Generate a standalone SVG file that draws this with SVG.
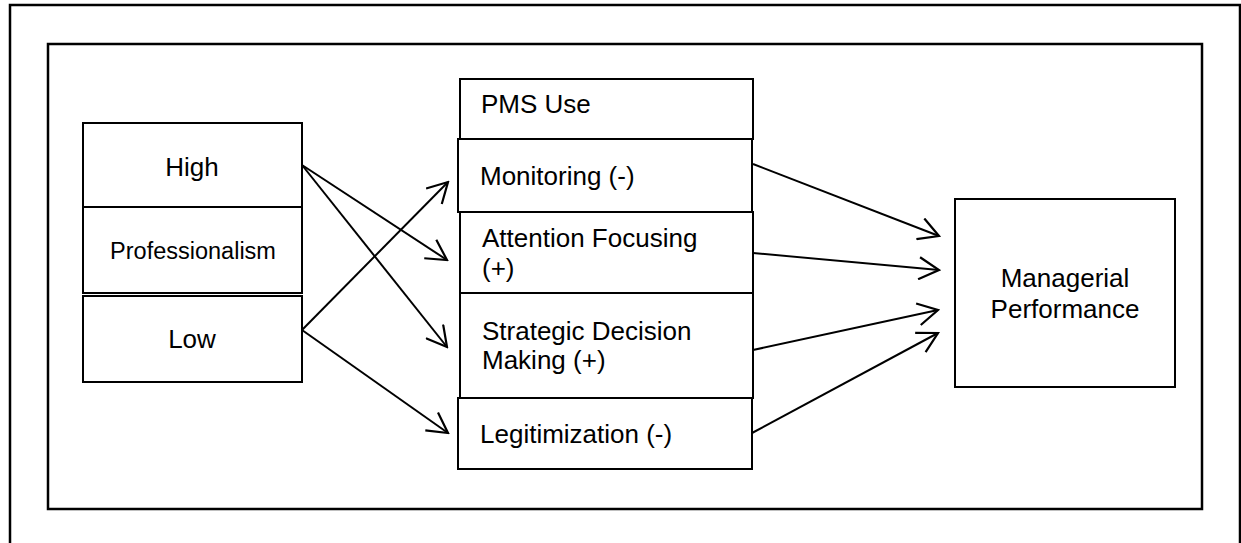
<svg xmlns="http://www.w3.org/2000/svg" width="1241" height="543" viewBox="0 0 1241 543">
  <style>
    .frame { fill: none; stroke: #000; stroke-width: 2.5; }
    .box { fill: #fff; stroke: #000; stroke-width: 2; }
    .lbl { font-family: "Liberation Sans", Arial, sans-serif; font-size: 26px; fill: #000; }
    .mid { text-anchor: middle; }
    .conn { fill: none; stroke: #000; stroke-width: 2; marker-end: url(#open); }
  </style>
  <defs>
    <marker id="open" viewBox="0 0 24 24" refX="22" refY="12" markerWidth="24" markerHeight="24" markerUnits="userSpaceOnUse" orient="auto">
      <path d="M2,1 L22,12 L2,23" fill="none" stroke="#000" stroke-width="2.2"/>
    </marker>
  </defs>
  <rect width="1241" height="543" fill="#fff"/>

  <!-- page frame and figure frame -->
  <rect class="frame" x="10" y="5" width="1230" height="560"/>
  <rect class="frame" x="48" y="44" width="1154" height="465"/>

  <!-- professionalism levels -->
  <g id="high">
    <rect class="box" x="83" y="123" width="219" height="84"/>
    <text class="lbl mid" x="192" y="176" font-size="25">High</text>
  </g>
  <g id="professionalism">
    <rect class="box" x="83" y="207" width="219" height="86"/>
    <text class="lbl mid" x="193" y="259" style="font-size:23.5px">Professionalism</text>
  </g>
  <g id="low">
    <rect class="box" x="83" y="296" width="219" height="86"/>
    <text class="lbl mid" x="192" y="348">Low</text>
  </g>

  <!-- PMS use column -->
  <g id="pms-use">
    <rect class="box" x="460" y="79" width="293" height="60"/>
    <text class="lbl" x="481" y="113">PMS Use</text>
  </g>
  <g id="monitoring">
    <rect class="box" x="458" y="139" width="294" height="73"/>
    <text class="lbl" x="480" y="185">Monitoring (-)</text>
  </g>
  <g id="attention-focusing">
    <rect class="box" x="460" y="212" width="293" height="81"/>
    <text class="lbl" x="482" y="247">Attention Focusing</text>
    <text class="lbl" x="482" y="277">(+)</text>
  </g>
  <g id="strategic-decision-making">
    <rect class="box" x="460" y="293" width="293" height="105"/>
    <text class="lbl" x="482" y="340">Strategic Decision</text>
    <text class="lbl" x="482" y="369">Making (+)</text>
  </g>
  <g id="legitimization">
    <rect class="box" x="458" y="398" width="294" height="71"/>
    <text class="lbl" x="480" y="443">Legitimization (-)</text>
  </g>

  <!-- outcome -->
  <g id="managerial-performance">
    <rect class="box" x="955" y="199" width="220" height="188"/>
    <text class="lbl mid" x="1065" y="287">Managerial</text>
    <text class="lbl mid" x="1065" y="318">Performance</text>
  </g>

  <!-- connectors -->
  <g id="connectors">
    <line class="conn" x1="302" y1="165" x2="447" y2="260"/>
    <line class="conn" x1="302" y1="165" x2="447" y2="347"/>
    <line class="conn" x1="302" y1="330" x2="448" y2="182"/>
    <line class="conn" x1="302" y1="330" x2="448" y2="433"/>
    <line class="conn" x1="753" y1="164" x2="939" y2="236"/>
    <line class="conn" x1="753" y1="253" x2="939" y2="270"/>
    <line class="conn" x1="753" y1="350" x2="938" y2="310"/>
    <line class="conn" x1="752" y1="433" x2="938" y2="333"/>
  </g>
</svg>
